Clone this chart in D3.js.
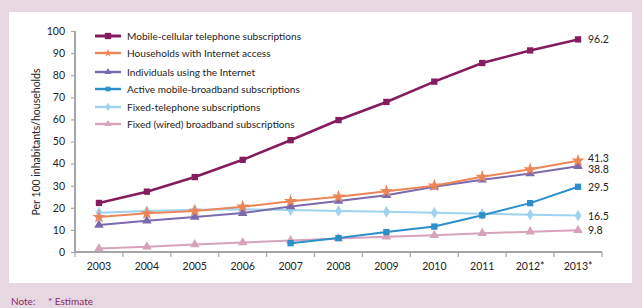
<!DOCTYPE html>
<html><head><meta charset="utf-8">
<script src="https://cdn.jsdelivr.net/npm/d3@7"></script>
<style>body{margin:0;background:#e7d7e0;}svg{display:block;}</style>
</head><body><svg id="c" width="642" height="308"></svg>
<script>
const years = ["2003","2004","2005","2006","2007","2008","2009","2010","2011","2012*","2013*"];
const yTicks = [0,10,20,30,40,50,60,70,80,90,100];
const seriesNames = ["Mobile-cellular telephone subscriptions","Households with Internet access","Individuals using the Internet","Active mobile-broadband subscriptions","Fixed-telephone subscriptions","Fixed (wired) broadband subscriptions"];
const mobileCellular = [22.2,27.3,33.9,41.7,50.6,59.7,67.9,77.1,85.5,91.2,96.2];
const householdsInternet = [15.8,17.5,18.6,20.5,23.0,25.0,27.5,30.0,34.0,37.4,41.3];
const individualsInternet = [12.2,14.1,15.8,17.6,20.6,23.1,25.7,29.5,32.7,35.5,38.8];
const activeMobileBroadband = [null,null,null,null,4.0,6.3,9.0,11.5,16.6,22.1,29.5];
const fixedTelephone = [17.8,18.5,19.1,19.3,19.0,18.6,18.2,17.8,17.3,16.9,16.5];
const fixedBroadband = [1.6,2.4,3.4,4.3,5.2,6.1,6.9,7.6,8.5,9.2,9.8];
const endLabels = ["96.2","41.3","38.8","29.5","16.5","9.8"];

const colors = ["#851c5e","#ec8658","#7b6aae","#2b8fc9","#9fd2ee","#d7a3bb"];
const symbols = [d3.symbolSquare,d3.symbolStar,d3.symbolTriangle,d3.symbolSquare,d3.symbolDiamond,d3.symbolTriangle];
const widths = [2.6,2,2,2,2,2];
const data = [mobileCellular,householdsInternet,individualsInternet,activeMobileBroadband,fixedTelephone,fixedBroadband];

const svg = d3.select("#c");
const font = "Lato, 'Open Sans', sans-serif";
svg.append("rect").attr("x",9).attr("y",12).attr("width",623).attr("height",271).attr("fill","#ffffff");

const x = d3.scaleBand().domain(years).range([75,602]);
const y = d3.scaleLinear().domain([0,100]).range([252,31]);
const cx = d => x(d)+x.bandwidth()/2;

// y axis
const ya = svg.append("g").attr("transform","translate(75,0)").call(d3.axisLeft(y).tickValues(yTicks).tickSize(4).tickPadding(6));
ya.select(".domain").attr("stroke","#a6a6a6").attr("stroke-width",2).attr("d","M0,31V252");
ya.selectAll(".tick line").attr("stroke","#a6a6a6").attr("stroke-width",1.2);
ya.selectAll("text").attr("font-family",font).attr("font-size",10.5).attr("fill","#222");

// x axis
const xa = svg.append("g").attr("transform","translate(0,252)").call(d3.axisBottom(x).tickSize(0).tickPadding(11));
xa.select(".domain").attr("stroke","#a6a6a6").attr("stroke-width",2).attr("d","M75,0H602");
xa.selectAll("text").attr("font-family",font).attr("font-size",10.5).attr("fill","#222");
const bounds = years.map(d=>x(d)).concat([602]);
svg.append("g").selectAll("line").data(bounds).join("line")
  .attr("x1",d=>d).attr("x2",d=>d).attr("y1",252).attr("y2",257).attr("stroke","#a6a6a6").attr("stroke-width",1.2);

svg.append("text").attr("transform","translate(40,142) rotate(-90)").attr("text-anchor","middle")
  .attr("font-family",font).attr("font-size",10.5).attr("fill","#222").text("Per 100 inhabitants/households");

// series (draw from back to front)
const order = [5,4,3,2,1,0];
order.forEach(i=>{
  const pts = years.map((yr,j)=>({yr,v:data[i][j]})).filter(p=>p.v!=null);
  const g = svg.append("g");
  g.append("path").datum(pts).attr("fill","none").attr("stroke",colors[i]).attr("stroke-width",widths[i])
    .attr("d",d3.line().x(p=>cx(p.yr)).y(p=>y(p.v)));
  g.selectAll("path.m").data(pts).join("path").attr("class","m")
    .attr("transform",p=>`translate(${cx(p.yr)},${y(p.v)})`)
    .attr("d",d3.symbol().type(symbols[i]).size(i===1?55:40)).attr("fill",colors[i]);
});

// end labels
const last = years[years.length-1];
endLabels.forEach((t,i)=>{
  const v = data[i][data[i].length-1];
  svg.append("text").attr("x",cx(last)+10).attr("y",y(v)+4+(i===1?-3:(i===2?3:0)))
    .attr("font-family",font).attr("font-size",10.5).attr("fill","#222").text(t);
});

// legend
const legY = [36,53,72,89,107,124];
seriesNames.forEach((n,i)=>{
  const g = svg.append("g").attr("transform",`translate(0,${legY[i]})`);
  g.append("line").attr("x1",95).attr("x2",121).attr("stroke",colors[i]).attr("stroke-width",i===0?3:2.4);
  g.append("path").attr("transform","translate(108,0)").attr("d",d3.symbol().type(symbols[i]).size(i===0?40:22)).attr("fill",colors[i]);
  g.append("text").attr("x",127).attr("y",4).attr("font-family",font).attr("font-size",10.1).attr("fill","#222").text(n);
});

// note
svg.append("text").attr("x",11).attr("y",305).attr("font-family",font).attr("font-size",10).attr("fill","#8b2a66").text("Note:");
svg.append("text").attr("x",48).attr("y",305).attr("font-family",font).attr("font-size",10).attr("fill","#8b2a66").text("* Estimate");
</script></body></html>
